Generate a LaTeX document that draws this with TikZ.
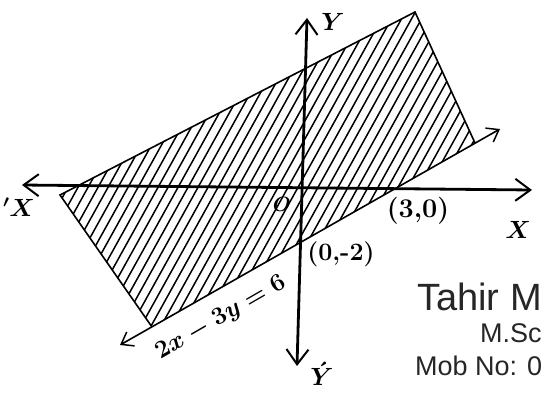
\documentclass[tikz,border=0pt]{standalone}
\usepackage{fontspec}
\newfontfamily\wmfont{Liberation Sans}
\usetikzlibrary{arrows.meta}
\begin{document}
\begin{tikzpicture}[x=1pt,y=-1pt,
  axis/.style={line width=2.8pt,{Straight Barb[length=15pt,width=22pt,line width=2pt]}-{Straight Barb[length=15pt,width=22pt,line width=2pt]}},
  edge/.style={line width=1.6pt},
  bline/.style={line width=1.6pt,{Straight Barb[length=11pt,width=16pt,line width=1.5pt]}-{Straight Barb[length=11pt,width=16pt,line width=1.5pt]}},
  hatch/.style={line width=1.5pt},
  lab/.style={font=\fontsize{27}{29}\selectfont\boldmath\bfseries, inner sep=0pt},
  wm/.style={font=\wmfont, text=black!85, inner sep=0pt, anchor=base west}]
\useasboundingbox (0,0) rectangle (541,409);
% vertices of the shaded region
\coordinate (A) at (60,195);
\coordinate (B) at (415,12);
\coordinate (C) at (475,143);
\coordinate (D) at (152,327);
% ends of the line 2x-3y=6
\coordinate (L1) at (120,345);
\coordinate (L2) at (500,129);
% axis ends
\coordinate (XL) at (22,185);
\coordinate (XR) at (532,190);
\coordinate (YT) at (307,18);
\coordinate (YB) at (297,366);
% hatching
\begin{scope}
  \clip (A) -- (B) -- (C) -- (D) -- cycle;
  \foreach \i in {-65,-55,...,345}{
    \draw[hatch] (\i,409) -- ({\i+227},0);
  }
\end{scope}
\draw[edge] (D) -- (A) -- (B) -- (C);
\draw[bline] (L1) -- (L2);
% axes
\draw[axis] (XL) -- (XR);
\draw[axis] (YT) -- (YB);
% labels
\node[lab] (ly) at (333,22) {$Y$};
\node[lab] (lyp) at (322,374) {$\acute{Y}$};
\node[lab] (lx) at (518,230) {$X$};
\node[lab] (lxp) at (19,207) {$'X$};
\node[lab, font=\fontsize{22}{24}\selectfont\boldmath] (lo) at (282,204) {$O$};
\node[lab, font=\fontsize{27}{29}\selectfont\bfseries] (p30) at (418,211) {(3,0)};
\node[lab, font=\fontsize{25}{27}\selectfont\bfseries] (p02) at (341,254) {(0,-2)};
\node[lab, font=\fontsize{25}{27}\selectfont\boldmath, rotate=30] (eq) at (221,318) {$2x-3y=6$};
% watermark text
\begin{scope}
  \clip (0,0) rectangle (541,409);
  \node[wm, font=\wmfont\fontsize{38}{40}\selectfont] (w1) at (417,310) {Tahir M};
  \node[wm, font=\wmfont\fontsize{27}{29}\selectfont] (w2) at (480,342) {M.Sc};
  \node[wm, font=\wmfont\fontsize{27}{29}\selectfont] (w3) at (415,375) {Mob No: 0};
\end{scope}
\end{tikzpicture}
\end{document}
